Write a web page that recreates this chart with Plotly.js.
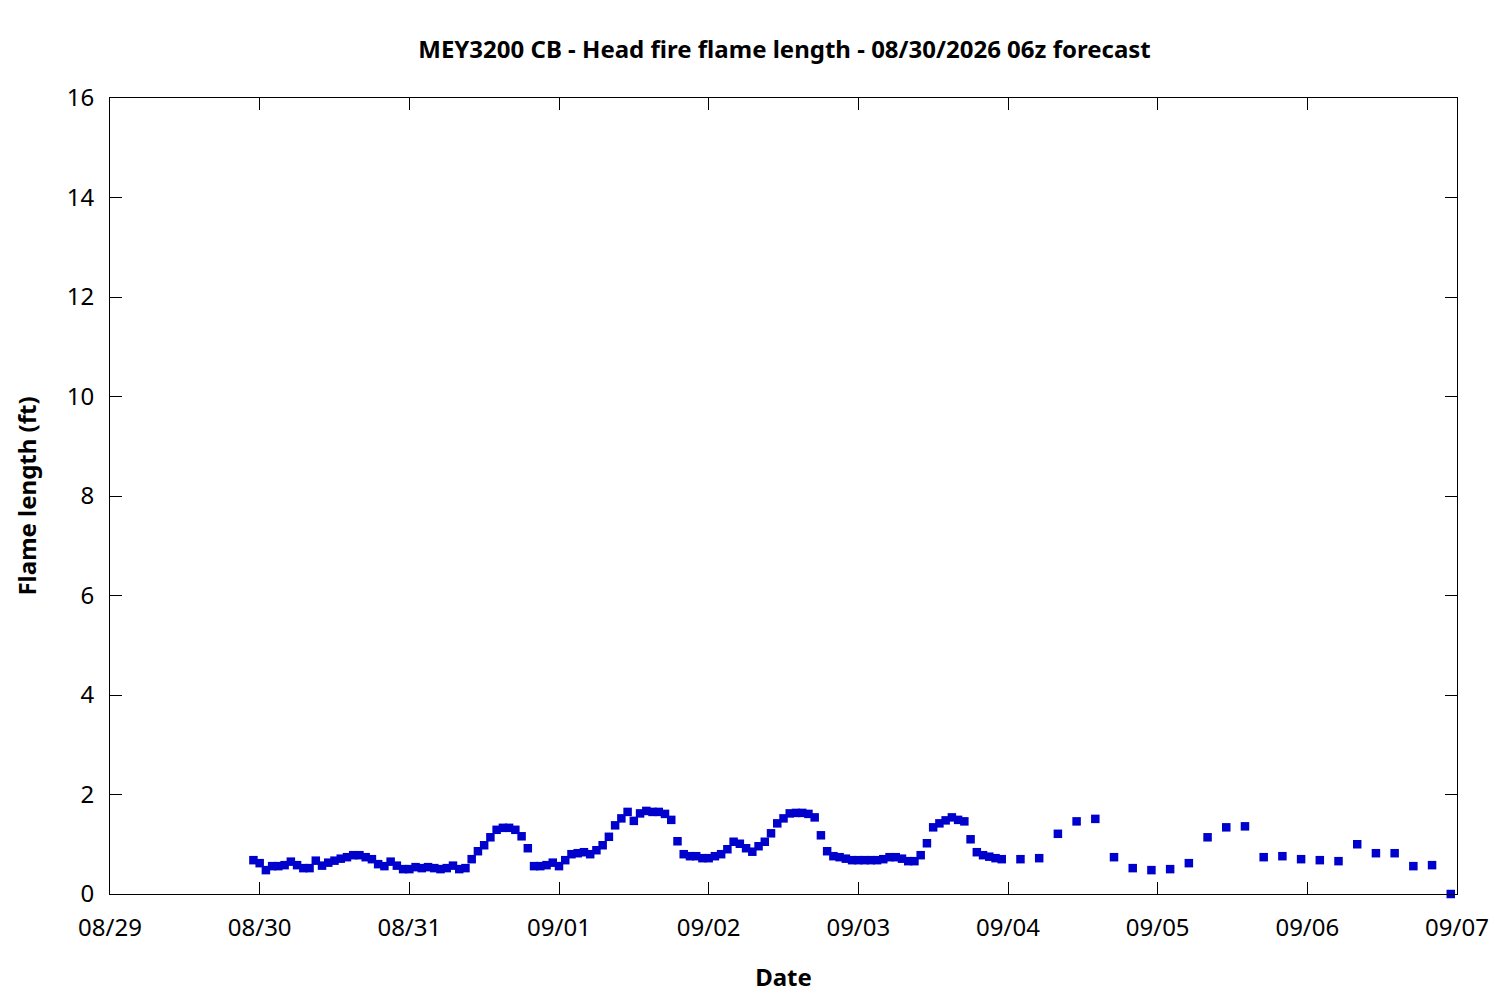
<!DOCTYPE html>
<html><head><meta charset="utf-8">
<script src="https://cdn.plot.ly/plotly-3.0.1.min.js"></script>
<style>html,body{margin:0;padding:0;background:#fff}#c{width:1500px;height:1000px}</style>
</head><body><div id="c"></div>
<script>
// Hourly times 08/29 23:00 .. 09/03 23:00, then 3-hourly 09/04 02:00 .. 09/06 23:00
const times = [
"2026-08-29 23:00",
"2026-08-30 00:00","2026-08-30 01:00","2026-08-30 02:00","2026-08-30 03:00","2026-08-30 04:00","2026-08-30 05:00","2026-08-30 06:00","2026-08-30 07:00","2026-08-30 08:00","2026-08-30 09:00","2026-08-30 10:00","2026-08-30 11:00","2026-08-30 12:00","2026-08-30 13:00","2026-08-30 14:00","2026-08-30 15:00","2026-08-30 16:00","2026-08-30 17:00","2026-08-30 18:00","2026-08-30 19:00","2026-08-30 20:00","2026-08-30 21:00","2026-08-30 22:00","2026-08-30 23:00",
"2026-08-31 00:00","2026-08-31 01:00","2026-08-31 02:00","2026-08-31 03:00","2026-08-31 04:00","2026-08-31 05:00","2026-08-31 06:00","2026-08-31 07:00","2026-08-31 08:00","2026-08-31 09:00","2026-08-31 10:00","2026-08-31 11:00","2026-08-31 12:00","2026-08-31 13:00","2026-08-31 14:00","2026-08-31 15:00","2026-08-31 16:00","2026-08-31 17:00","2026-08-31 18:00","2026-08-31 19:00","2026-08-31 20:00","2026-08-31 21:00","2026-08-31 22:00","2026-08-31 23:00",
"2026-09-01 00:00","2026-09-01 01:00","2026-09-01 02:00","2026-09-01 03:00","2026-09-01 04:00","2026-09-01 05:00","2026-09-01 06:00","2026-09-01 07:00","2026-09-01 08:00","2026-09-01 09:00","2026-09-01 10:00","2026-09-01 11:00","2026-09-01 12:00","2026-09-01 13:00","2026-09-01 14:00","2026-09-01 15:00","2026-09-01 16:00","2026-09-01 17:00","2026-09-01 18:00","2026-09-01 19:00","2026-09-01 20:00","2026-09-01 21:00","2026-09-01 22:00","2026-09-01 23:00",
"2026-09-02 00:00","2026-09-02 01:00","2026-09-02 02:00","2026-09-02 03:00","2026-09-02 04:00","2026-09-02 05:00","2026-09-02 06:00","2026-09-02 07:00","2026-09-02 08:00","2026-09-02 09:00","2026-09-02 10:00","2026-09-02 11:00","2026-09-02 12:00","2026-09-02 13:00","2026-09-02 14:00","2026-09-02 15:00","2026-09-02 16:00","2026-09-02 17:00","2026-09-02 18:00","2026-09-02 19:00","2026-09-02 20:00","2026-09-02 21:00","2026-09-02 22:00","2026-09-02 23:00",
"2026-09-03 00:00","2026-09-03 01:00","2026-09-03 02:00","2026-09-03 03:00","2026-09-03 04:00","2026-09-03 05:00","2026-09-03 06:00","2026-09-03 07:00","2026-09-03 08:00","2026-09-03 09:00","2026-09-03 10:00","2026-09-03 11:00","2026-09-03 12:00","2026-09-03 13:00","2026-09-03 14:00","2026-09-03 15:00","2026-09-03 16:00","2026-09-03 17:00","2026-09-03 18:00","2026-09-03 19:00","2026-09-03 20:00","2026-09-03 21:00","2026-09-03 22:00","2026-09-03 23:00",
"2026-09-04 02:00","2026-09-04 05:00","2026-09-04 08:00","2026-09-04 11:00","2026-09-04 14:00","2026-09-04 17:00","2026-09-04 20:00","2026-09-04 23:00",
"2026-09-05 02:00","2026-09-05 05:00","2026-09-05 08:00","2026-09-05 11:00","2026-09-05 14:00","2026-09-05 17:00","2026-09-05 20:00","2026-09-05 23:00",
"2026-09-06 02:00","2026-09-06 05:00","2026-09-06 08:00","2026-09-06 11:00","2026-09-06 14:00","2026-09-06 17:00","2026-09-06 20:00","2026-09-06 23:00"
];
const flameLength = [
0.68,
0.62,0.48,0.56,0.56,0.58,0.65,0.58,0.52,0.52,0.67,0.57,0.63,0.67,0.71,0.74,0.78,0.78,0.74,0.70,0.60,0.56,0.65,0.57,0.50,
0.50,0.54,0.52,0.54,0.52,0.50,0.52,0.57,0.50,0.52,0.70,0.86,0.98,1.14,1.29,1.33,1.33,1.29,1.16,0.92,0.56,0.56,0.58,0.63,
0.56,0.68,0.80,0.82,0.84,0.80,0.88,0.98,1.15,1.38,1.52,1.65,1.47,1.62,1.67,1.65,1.65,1.61,1.49,1.06,0.80,0.76,0.76,0.72,
0.72,0.76,0.80,0.90,1.05,1.01,0.92,0.85,0.96,1.05,1.22,1.42,1.52,1.62,1.63,1.63,1.61,1.54,1.18,0.86,0.76,0.74,0.71,0.68,
0.68,0.68,0.68,0.68,0.70,0.74,0.74,0.71,0.66,0.66,0.78,1.02,1.34,1.42,1.48,1.54,1.49,1.46,1.10,0.84,0.78,0.75,0.72,0.70,
0.70,0.72,1.21,1.46,1.51,0.74,0.52,0.48,
0.50,0.62,1.14,1.34,1.36,0.74,0.76,0.70,
0.68,0.66,1.00,0.82,0.82,0.56,0.58,0.00
];
const titleText = "MEY3200 CB - Head fire flame length - 08/30/2026 06z forecast";
const xTitle = "Date";
const yTitle = "Flame length (ft)";

const FONT = "Noto Sans, Open Sans, sans-serif";
const axisCommon = {
  showline: true, linecolor: "#000", linewidth: 1, mirror: "ticks",
  ticks: "inside", ticklen: 12, tickwidth: 1, tickcolor: "#000",
  showgrid: false, zeroline: false,
  tickfont: {family: FONT, size: 24, color: "#000"}
};
Plotly.newPlot("c", [{
  x: times, y: flameLength, type: "scatter", mode: "markers",
  marker: {symbol: "square", size: 8.5, color: "#0000cc"},
  cliponaxis: false, hoverinfo: "x+y"
}], {
  width: 1500, height: 1000,
  margin: {l: 110, r: 43, t: 98, b: 106},
  paper_bgcolor: "#fff", plot_bgcolor: "#fff",
  showlegend: false,
  title: {text: "<b>" + titleText + "</b>", x: 0.523, xanchor: "center", y: 0.95, yanchor: "middle",
          font: {family: FONT, size: 24, color: "#000"}},
  xaxis: Object.assign({}, axisCommon, {
    type: "date", range: ["2026-08-29 00:00", "2026-09-07 00:00"],
    dtick: 86400000, tick0: "2026-08-29", tickformat: "%m/%d",
    ticklabelstandoff: 12,
    title: {text: "<b>" + xTitle + "</b>", font: {family: FONT, size: 24, color: "#000"}, standoff: 27}
  }),
  yaxis: Object.assign({}, axisCommon, {
    range: [0, 16], dtick: 2, tick0: 0,
    ticklabelstandoff: 10,
    title: {text: "<b>" + yTitle + "</b>", font: {family: FONT, size: 24, color: "#000"}, standoff: 23}
  })
}, {displayModeBar: false, staticPlot: true});
</script></body></html>
